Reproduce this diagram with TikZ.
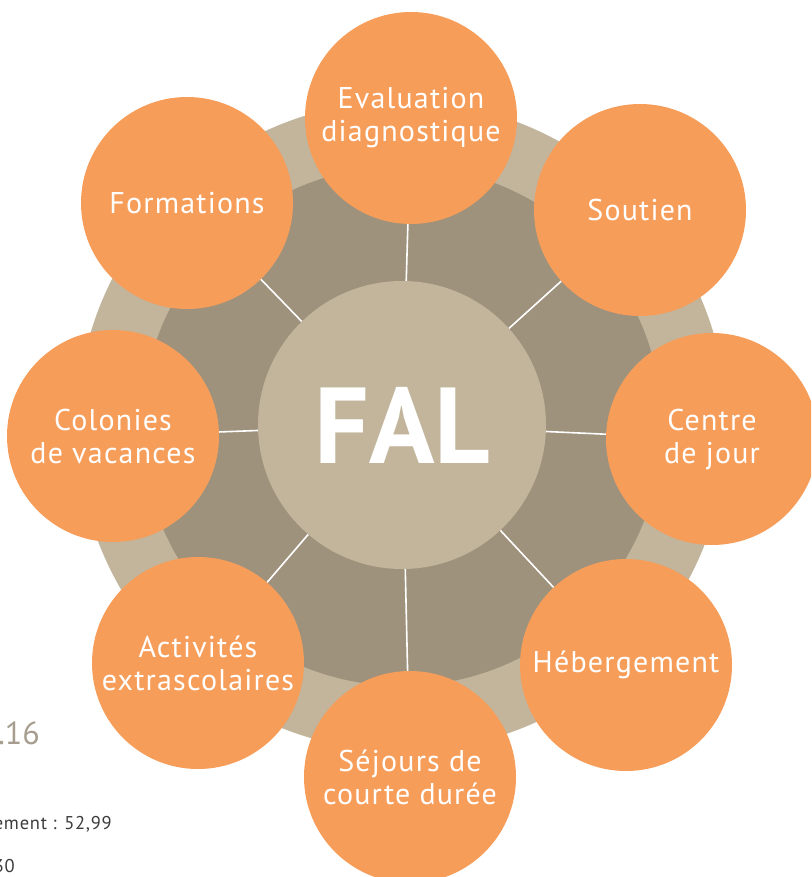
\documentclass[tikz,border=0pt]{standalone}
\usepackage{fontspec}
\setmainfont{PT Sans}
\newfontfamily\spacedfont{PT Sans}[LetterSpace=4]
\usetikzlibrary{shapes}
\definecolor{falorange}{RGB}{247,157,90}
\definecolor{faltan}{RGB}{194,181,156}
\definecolor{faldark}{RGB}{158,146,124}
\definecolor{falgrey}{RGB}{60,60,60}
\definecolor{falnote}{RGB}{166,157,142}

\begin{document}
\begin{tikzpicture}[x=1pt,y=-1pt,
	service/.style={circle,fill=falorange,minimum size=212pt,inner sep=0pt,
		text=white,align=center,font=\spacedfont\fontsize{30}{33}\selectfont},
	spoke/.style={white,line width=1.6pt}]
	\useasboundingbox (0,0) rectangle (811,877);
	\clip (0,0) rectangle (811,877);

	\fill[faltan] (402,426) circle (325pt);
	\fill[faldark] (402,426) circle (260pt);

	\node[circle,fill=faltan,minimum size=288pt,inner sep=0pt,text=white,
		font=\fontsize{108}{108}\selectfont\bfseries] (fal) at (402,425) {FAL};

	\node[service] (eval) at (411,118) {Evaluation\\diagnostique};
	\node[service] (soutien) at (640,210) {Soutien};
	\node[service] (jour) at (712,439) {Centre\\de jour};
	\node[service] (heberg) at (626,665) {Hébergement};
	\node[service] (sejour) at (410,777) {Séjours de\\courte durée};
	\node[service] (activ) at (198,663) {Activités\\extrascolaires};
	\node[service] (colon) at (113,436) {Colonies\\de vacances};
	\node[service] (form) at (187,203) {Formations};

	\foreach \s in {eval,soutien,jour,heberg,sejour,activ,colon,form}
		\draw[spoke] (fal) -- (\s);

	\node[anchor=east,inner sep=0pt,text=falnote,font=\fontsize{32}{32}\selectfont]
		(annee) at (40,733) {.16};
	\node[anchor=east,inner sep=0pt,text=falgrey,font=\spacedfont\fontsize{18.5}{18.5}\selectfont]
		(taux) at (112,824) {ement : 52,99};
	\node[anchor=east,inner sep=0pt,text=falgrey,font=\spacedfont\fontsize{18.5}{18.5}\selectfont]
		(total) at (15,866) {30};
\end{tikzpicture}
\end{document}
